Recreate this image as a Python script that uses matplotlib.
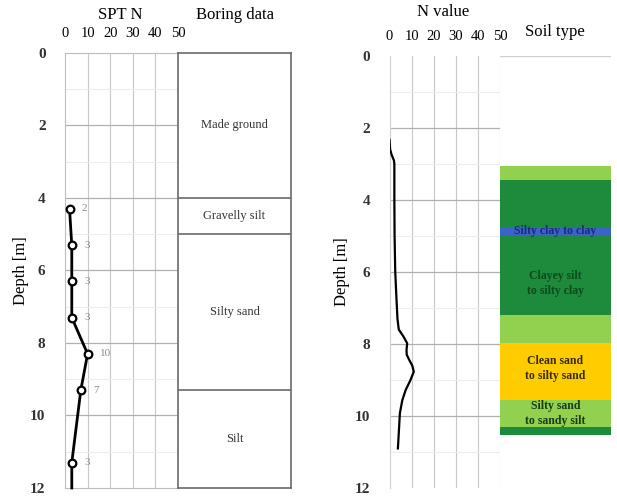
import numpy as np
import matplotlib
matplotlib.use("Agg")
import matplotlib.pyplot as plt

plt.rcParams['font.family'] = ['Liberation Serif', 'DejaVu Serif']

# SPT test results
spt_depth = [4.3, 5.3, 6.3, 7.3, 8.3, 9.3, 11.3]
spt_n = [2, 3, 3, 3, 10, 7, 3]

# boring log layers
boring_top = [0, 4, 5, 9.3]
boring_bot = [4, 5, 9.3, 12]
boring_name = ["Made ground", "Gravelly silt", "Silty sand", "Silt"]

# CPT derived N value profile
cpt_depth = [2.33, 2.6, 2.75, 2.9, 3.0, 4.0, 5.0, 6.0, 6.8, 7.3, 7.6, 7.8, 7.98, 8.17,
             8.3, 8.45, 8.6, 8.77, 9.0, 9.28, 9.56, 9.92, 10.47, 10.9]
cpt_n = [0.0, 0.3, 1.0, 2.0, 2.2, 2.2, 2.3, 2.6, 3.2, 3.6, 4.2, 6.4, 8.0, 7.7,
         7.8, 9.0, 10.3, 11.0, 9.5, 7.3, 5.8, 4.7, 4.2, 3.8]

# soil behaviour type column
soil_top = [3.05, 3.44, 4.74, 4.97, 7.19, 7.96, 9.55, 10.3]
soil_bot = [3.44, 4.74, 4.97, 7.19, 7.96, 9.55, 10.3, 10.53]
soil_col = ["#92d050", "#1e8a3c", "#3b63c9", "#1e8a3c", "#92d050", "#ffcc00", "#92d050", "#1e8a3c"]

soil_lab = ["Silty clay to clay", "Clayey silt\nto silty clay", "Clean sand\nto silty sand", "Silty sand\nto sandy silt"]
soil_lab_y = [4.86, 6.33, 8.67, 9.93]
soil_lab_c = ["#1c2a80", "#0d4a1c", "#3a2c00", "#1a3a10"]

n_ticks = [0, 10, 20, 30, 40, 50]
depth_ticks = [0, 2, 4, 6, 8, 10, 12]

fig = plt.figure(figsize=(6.17, 5.03), dpi=100)

W, H = 617.0, 503.0
def rect(x0, x1, y0, y1):
    return [x0 / W, 1 - y1 / H, (x1 - x0) / W, (y1 - y0) / H]

grid_c = "#c8c8c8"

def setup_n_axis(ax, ylab_x):
    ax.set_xlim(0, 50)
    ax.set_ylim(12, 0)
    ax.xaxis.tick_top()
    ax.set_xticks(n_ticks)
    ax.set_xticklabels([str(t) for t in n_ticks], fontsize=10.5)
    ax.set_yticks(depth_ticks)
    ax.set_yticklabels([str(t) for t in depth_ticks], fontsize=11, fontweight='bold', color="#333333")
    ax.tick_params(length=0)
    ax.tick_params(axis='x', pad=9)
    ax.tick_params(axis='y', pad=14)
    for v in [10, 20, 30, 40]:
        ax.axvline(v, color=grid_c, lw=0.8, zorder=0)
    for d in [2, 4, 6, 8, 10]:
        ax.axhline(d, color="#b0b0b0", lw=0.9, zorder=0)
    for d in [1, 3, 5, 7, 9, 11]:
        ax.axhline(d, color="#ececec", lw=0.7, zorder=0)
    for s in ax.spines.values():
        s.set_color("#bdbdbd")
        s.set_linewidth(0.8)
    ax.set_ylabel("Depth [m]", fontsize=12)
    ax.yaxis.set_label_coords(ylab_x, 0.5)

# ---- left: SPT N
ax1 = fig.add_axes(rect(65, 178, 53, 488))
setup_n_axis(ax1, -0.32)
ax1.plot(spt_n + [spt_n[-1]], spt_depth + [12], color="black", lw=2, zorder=3, clip_on=False)
ax1.plot(spt_n, spt_depth, 'o', ms=5.5, mfc="white", mec="black", mew=1.6, zorder=4)
for n, d in zip(spt_n, spt_depth):
    ax1.text(n + 5.5, d, str(n), fontsize=8, color="#8a8a8a", va='center', ha='left')
fig.text(120 / W, 1 - 15 / H, "SPT N", ha='center', va='center', fontsize=12)

# ---- boring data column
ax2 = fig.add_axes(rect(178, 291, 53, 488))
ax2.set_xlim(0, 1)
ax2.set_ylim(12, 0)
ax2.set_xticks([])
ax2.set_yticks([])
for s in ax2.spines.values():
    s.set_color("#6a6a6a")
    s.set_linewidth(1.2)
for t, b, name in zip(boring_top, boring_bot, boring_name):
    if t > 0:
        ax2.axhline(t, color="#6a6a6a", lw=1.2)
    ax2.text(0.5, (t + b) / 2, name, ha='center', va='center', fontsize=9, color="#333333")
fig.text(235 / W, 1 - 15 / H, "Boring data", ha='center', va='center', fontsize=12)

# ---- right: N value from CPT
ax3 = fig.add_axes(rect(389.5, 500, 56, 488))
setup_n_axis(ax3, -0.36)
for s in ["top", "right", "bottom"]:
    ax3.spines[s].set_visible(False)
ax3.spines["left"].set_color("#d0d0d0")
ax3.axvline(50, color=grid_c, lw=0.8, zorder=0)
ax3.plot(cpt_n, cpt_depth, color="black", lw=1.6, zorder=3)
fig.text(443 / W, 1 - 12 / H, "N value", ha='center', va='center', fontsize=12)

# ---- soil type column
ax4 = fig.add_axes(rect(500, 611, 56, 488))
ax4.set_xlim(0, 1)
ax4.set_ylim(12, 0)
ax4.set_xticks([])
ax4.set_yticks([])
for s in ax4.spines.values():
    s.set_visible(False)
ax4.axhline(0, color="#d0d0d0", lw=1.0)
for t, b, c in zip(soil_top, soil_bot, soil_col):
    ax4.bar(0.5, b - t, bottom=t, width=1.0, color=c, edgecolor="none")
for lab, y, c in zip(soil_lab, soil_lab_y, soil_lab_c):
    ax4.text(0.5, y, lab, ha='center', va='center', fontsize=8.5, fontweight='bold',
             color=c, linespacing=1.35)
fig.text(555 / W, 1 - 32 / H, "Soil type", ha='center', va='center', fontsize=12)

fig.savefig("out.png", dpi=100)
